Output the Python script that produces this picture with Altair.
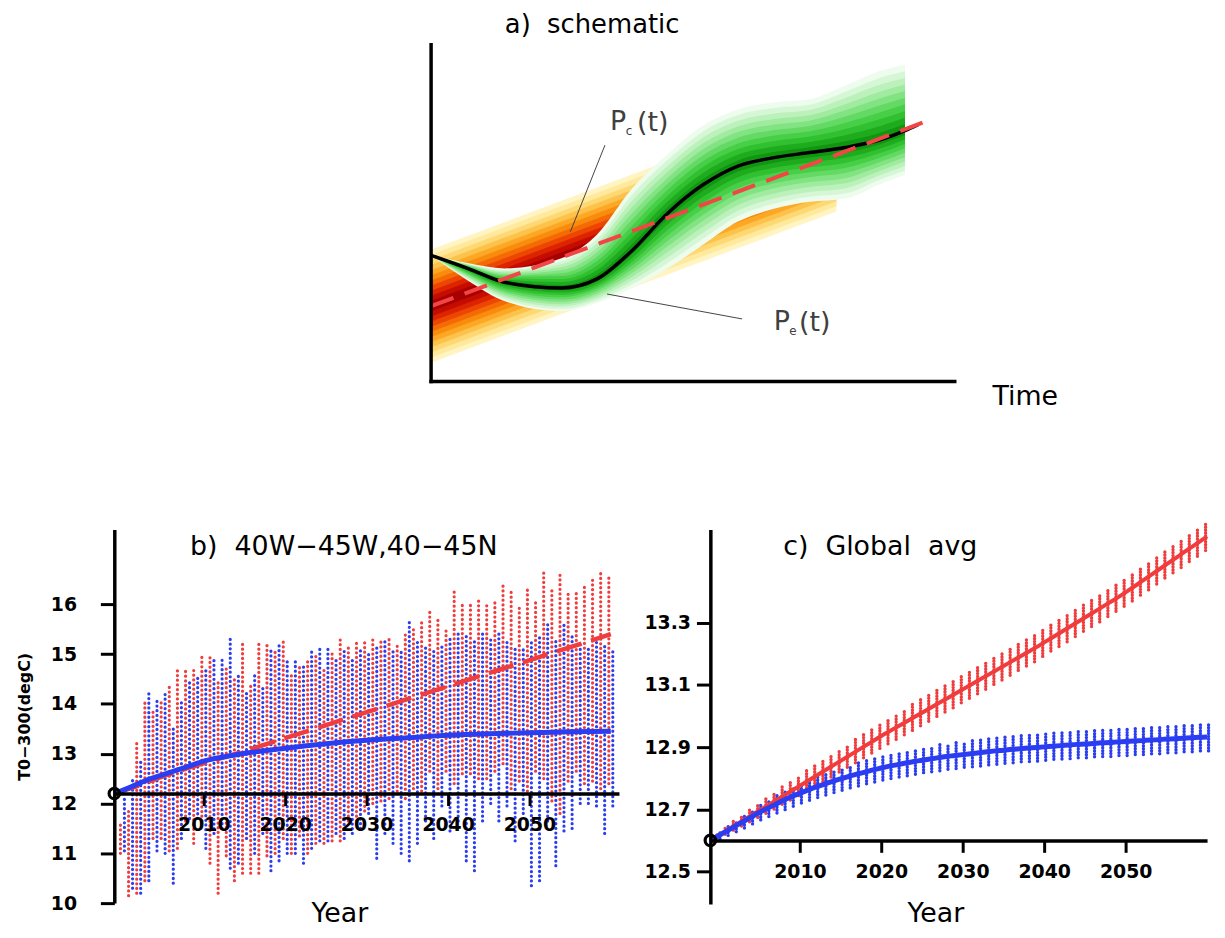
import altair as alt
import pandas as pd

FONT = "DejaVu Sans"
RED = "#f03c3c"
BLUE = "#2b3df0"
NB = "\u00a0"

# ---------------- panel a: schematic ----------------
a_band_t = [0.0, 77.4]
a_band_center = [22.4, 67.3]
a_band_half = 16.8
a_band_colors = ["#fff4c2", "#ffe99c", "#fed874", "#fdc24a", "#fca826", "#f98c0c",
                 "#f46a04", "#ec4602", "#dc2400", "#c40c00", "#a80000"]  # edge -> centre

a_green_t = [0.0, 7.2, 14.0, 24.9, 31.7, 38.3, 45.2, 52.0, 58.6, 65.5, 72.3, 79.1, 85.8, 90.5]
a_green_mid = [37.5, 33.5, 29.5, 27.8, 30.5, 38.8, 50.0, 58.5, 64.0, 66.5, 68.0, 69.5, 71.8, 74.5]
a_green_top = [37.5, 35.1, 33.6, 36.6, 43.7, 57.2, 67.6, 76.1, 80.8, 82.9, 83.8, 87.9, 92.3, 94.1]
a_green_bot = [37.5, 29.8, 23.9, 20.9, 23.3, 27.7, 33.6, 40.7, 47.5, 51.3, 53.4, 54.3, 58.7, 61.4]
a_green_colors = ["#edfced", "#d6f7d6", "#bcf1bc", "#a0eba0", "#82e382",
                  "#64da64", "#48cf48", "#30c030", "#1eac1e", "#109610"]  # edge -> centre

a_black_t = a_green_t + [93.0]
a_black_v = a_green_mid + [76.3]
a_dash_t = [0.0, 95.1]
a_dash_v = [22.4, 77.6]

a_lead_x = [33.2, 33.6]
a_lead_y = [70.2, 26.0]
a_lead_x2 = [26.6, 59.4]
a_lead_y2 = [44.5, 18.6]

a_axis_x = [0, 0]
a_axis_y = [0, 0]
a_axis_x2 = [0, 100]
a_axis_y2 = [100, 0]

# ---------------- panel b: 40W-45W,40-45N ----------------
b_years = list(range(2000, 2061))
b_red_hi = [11.65, 11.9, 13.25, 14.1, 13.9, 14.1, 14.35, 14.7, 14.7, 14.7,
            14.95, 14.95, 14.5, 14.7, 14.5, 15.25, 14.4, 15.25, 15.2, 15.05,
            15.25, 14.6, 14.75, 14.85, 14.95, 14.75, 15.05, 15.3, 15.2, 15.3,
            15.25, 15.35, 15.3, 15.35, 15.2, 15.45, 15.55, 15.65, 15.85, 15.7,
            15.5, 16.3, 16.0, 16.05, 16.1, 16.05, 16.1, 16.4, 16.25, 16.0,
            16.3, 16.1, 16.65, 16.3, 16.6, 16.2, 16.3, 16.4, 16.5, 16.65, 16.6]
b_red_lo = [11.0, 10.15, 10.2, 10.45, 11.3, 11.3, 11.05, 11.1, 11.65, 11.2,
            11.65, 10.8, 10.2, 10.95, 10.45, 10.6, 10.6, 10.6, 10.95, 11.0,
            11.3, 11.0, 11.35, 11.0, 11.2, 11.2, 11.25, 11.25, 11.65, 11.65,
            11.85, 12.0, 12.05, 12.1, 12.25, 12.1, 12.3, 12.25, 12.65, 12.3,
            12.65, 12.4, 12.6, 12.6, 12.5, 12.5, 12.65, 12.8, 12.3, 12.45,
            12.25, 12.65, 12.5, 12.05, 11.8, 12.45, 12.65, 12.4, 12.45, 12.3, 12.4]
b_blue_hi = [12.1, 12.5, 12.9, 14.25, 14.05, 14.2, 13.5, 14.1, 14.5, 14.6,
             14.7, 14.95, 14.95, 15.35, 14.6, 14.25, 14.6, 14.4, 15.1, 15.25,
             14.9, 14.85, 14.75, 15.05, 15.1, 15.15, 14.9, 15.05, 14.95, 15.1,
             15.05, 15.15, 15.3, 15.05, 15.05, 15.7, 15.3, 15.15, 15.1, 15.2,
             15.3, 15.45, 15.4, 15.3, 15.4, 15.3, 15.45, 15.25, 15.15, 15.1,
             15.3, 15.4, 15.6, 15.3, 15.6, 15.4, 15.2, 15.1, 15.3, 15.2, 15.05]
b_blue_lo = [11.05, 10.3, 10.2, 10.45, 11.05, 11.0, 10.4, 11.3, 11.7, 11.7,
             11.1, 11.4, 11.5, 10.7, 10.8, 11.3, 11.0, 11.4, 10.65, 10.85,
             11.0, 11.0, 10.8, 11.1, 11.25, 11.25, 11.4, 11.3, 11.4, 11.5,
             11.8, 10.9, 11.4, 11.2, 11.0, 10.85, 11.2, 11.65, 11.3, 11.95,
             11.45, 11.65, 10.85, 10.65, 11.65, 12.0, 11.65, 11.95, 11.25, 11.8,
             10.35, 10.45, 11.65, 10.75, 11.45, 11.5, 12.0, 12.0, 11.95, 11.4, 11.95]
b_blue_line_year = [1999, 2001, 2003, 2005, 2008, 2010, 2014, 2020, 2025, 2030, 2035, 2040, 2045, 2050, 2055, 2060]
b_blue_line_val = [12.2, 12.33, 12.47, 12.58, 12.74, 12.85, 12.98, 13.11, 13.2, 13.27, 13.32, 13.37, 13.4, 13.42, 13.44, 13.45]
b_red_line_year = [1999, 2002, 2005, 2008, 2011, 2014, 2060]
b_red_line_val = [12.2, 12.36, 12.55, 12.71, 12.86, 13.0, 15.4]
b_origin = [1999, 12.2]
b_yticks = [10, 11, 12, 13, 14, 15, 16]
x_ticks = [2010, 2020, 2030, 2040, 2050]

# ---------------- panel c: Global avg ----------------
c_line_years = list(range(1999, 2061))
c_red_center = [12.600, 12.616, 12.632, 12.648, 12.664, 12.680, 12.696, 12.712, 12.728, 12.744,
                12.760, 12.776, 12.792, 12.808, 12.824, 12.840, 12.856, 12.872, 12.888, 12.904,
                12.920, 12.936, 12.951, 12.966, 12.981, 12.996, 13.011, 13.026, 13.041, 13.056,
                13.071, 13.086, 13.101, 13.116, 13.131, 13.146, 13.161, 13.176, 13.191, 13.206,
                13.221, 13.237, 13.253, 13.269, 13.285, 13.301, 13.317, 13.333, 13.349, 13.365,
                13.381, 13.398, 13.416, 13.434, 13.452, 13.470, 13.488, 13.506, 13.524, 13.542,
                13.560, 13.578]
c_blue_center = [12.600, 12.615, 12.630, 12.645, 12.660, 12.675, 12.690, 12.703, 12.716, 12.729,
                 12.741, 12.752, 12.762, 12.772, 12.781, 12.790, 12.798, 12.806, 12.813, 12.820,
                 12.827, 12.833, 12.839, 12.844, 12.849, 12.854, 12.858, 12.862, 12.866, 12.870,
                 12.873, 12.876, 12.879, 12.882, 12.885, 12.888, 12.890, 12.893, 12.895, 12.897,
                 12.899, 12.901, 12.903, 12.905, 12.907, 12.909, 12.910, 12.912, 12.914, 12.915,
                 12.917, 12.918, 12.920, 12.921, 12.923, 12.924, 12.926, 12.927, 12.929, 12.930,
                 12.932, 12.933]
c_red_half = [0.008, 0.012, 0.015, 0.018, 0.020, 0.022, 0.025, 0.027, 0.028, 0.030,
              0.032, 0.033, 0.034, 0.035, 0.036, 0.036, 0.037, 0.038, 0.038, 0.039,
              0.040, 0.040, 0.041, 0.041, 0.042, 0.042, 0.043, 0.042, 0.043, 0.044,
              0.043, 0.044, 0.044, 0.045, 0.044, 0.045, 0.045, 0.044, 0.045, 0.046,
              0.045, 0.044, 0.045, 0.046, 0.045, 0.044, 0.045, 0.046, 0.045, 0.044,
              0.045, 0.046, 0.045, 0.046, 0.045, 0.044, 0.045, 0.046, 0.045, 0.046, 0.045]
c_blue_half = [0.010, 0.014, 0.017, 0.020, 0.022, 0.024, 0.026, 0.028, 0.030, 0.031,
               0.032, 0.033, 0.034, 0.035, 0.036, 0.037, 0.037, 0.038, 0.038, 0.039,
               0.039, 0.040, 0.040, 0.041, 0.041, 0.040, 0.041, 0.042, 0.041, 0.042,
               0.041, 0.042, 0.043, 0.042, 0.043, 0.042, 0.043, 0.042, 0.043, 0.044,
               0.043, 0.042, 0.043, 0.044, 0.043, 0.044, 0.043, 0.044, 0.045, 0.044,
               0.045, 0.044, 0.045, 0.044, 0.045, 0.044, 0.045, 0.044, 0.045, 0.044, 0.045]
c_origin = [1999, 12.6]
c_yticks = [12.5, 12.7, 12.9, 13.1, 13.3]

# ================= layout =================
A_W, A_H = 846, 339
B_W, B_H = 508, 376
C_W, C_H = 500, 377
B_XDOM = [1999, 2061]
B_YDOM = [10, 17.5]
C_XDOM = [1999, 2060]
C_YDOM = [12.395, 13.6]


def text_layer(txt, x, y, size, weight="normal", angle=0, color="black"):
    return alt.Chart(pd.DataFrame({"t": [txt]})).mark_text(
        font=FONT, fontSize=size, fontWeight=weight, align="center", baseline="middle",
        color=color, angle=angle
    ).encode(text="t:N", x=alt.value(x), y=alt.value(y))


# ---------- panel a ----------
axs = alt.Scale(domain=[-60.5, 100], nice=False, zero=False)
ays = alt.Scale(domain=[0, 100], nice=False, zero=False)
ax_layers = []
nb = len(a_band_colors)
for k in range(nb, 0, -1):
    half = a_band_half * k / nb
    df = pd.DataFrame({"t": a_band_t,
                       "lo": [c - half for c in a_band_center],
                       "hi": [c + half for c in a_band_center]})
    ax_layers.append(alt.Chart(df).mark_area(color=a_band_colors[nb - k], opacity=1).encode(
        x=alt.X("t:Q", scale=axs, axis=None), y=alt.Y("lo:Q", scale=ays, axis=None), y2="hi:Q"))
ng = len(a_green_colors)
for k in range(ng, 0, -1):
    f = k / ng
    df = pd.DataFrame({"t": a_green_t,
                       "lo": [m + (b - m) * f for m, b in zip(a_green_mid, a_green_bot)],
                       "hi": [m + (t - m) * f for m, t in zip(a_green_mid, a_green_top)]})
    ax_layers.append(alt.Chart(df).mark_area(color=a_green_colors[ng - k], interpolate="monotone", opacity=1).encode(
        x=alt.X("t:Q", scale=axs, axis=None), y=alt.Y("lo:Q", scale=ays, axis=None), y2="hi:Q"))
ax_layers.append(alt.Chart(pd.DataFrame({"t": a_black_t, "v": a_black_v})).mark_line(
    color="black", strokeWidth=3.5, interpolate="monotone").encode(
    x=alt.X("t:Q", scale=axs, axis=None), y=alt.Y("v:Q", scale=ays, axis=None)))
ax_layers.append(alt.Chart(pd.DataFrame({"t": a_dash_t, "v": a_dash_v})).mark_line(
    color="#f24646", strokeWidth=4, strokeDash=[24, 12]).encode(
    x=alt.X("t:Q", scale=axs, axis=None), y=alt.Y("v:Q", scale=ays, axis=None)))
ax_layers.append(alt.Chart(pd.DataFrame({"x": a_lead_x, "y": a_lead_y, "x2": a_lead_x2, "y2": a_lead_y2})).mark_rule(
    color="#444444", strokeWidth=1).encode(
    x=alt.X("x:Q", scale=axs, axis=None), y=alt.Y("y:Q", scale=ays, axis=None), x2="x2:Q", y2="y2:Q"))
ax_layers.append(alt.Chart(pd.DataFrame({"x": a_axis_x, "y": a_axis_y, "x2": a_axis_x2, "y2": a_axis_y2})).mark_rule(
    color="black", strokeWidth=3.5, strokeCap="square").encode(
    x=alt.X("x:Q", scale=axs, axis=None), y=alt.Y("y:Q", scale=ays, axis=None), x2="x2:Q", y2="y2:Q"))
ax_layers += [
    text_layer("a)" + NB + NB + "schematic", 481, -19.5, 26),
    text_layer("Time", 917, 355, 27),
    text_layer("P", 507, 78, 27, color="#404040"),
    text_layer("c", 518, 87, 12, color="#404040"),
    text_layer("(t)", 542, 79, 27, color="#404040"),
    text_layer("P", 672, 279, 27, color="#404040"),
    text_layer("e", 683, 288, 12, color="#404040"),
    text_layer("(t)", 705, 280, 27, color="#404040"),
]
panel_a = alt.layer(*ax_layers).properties(width=A_W, height=A_H)


def axis_pair(xdom, ydom, height, y0, yticks, yfmt, ylabpad, ytitle):
    off = -height * (y0 - ydom[0]) / (ydom[1] - ydom[0])
    xa = alt.Axis(values=x_ticks, format="d", orient="bottom", offset=off, tickSize=12, tickWidth=3,
                  tickColor="black", domainColor="black", domainWidth=3.5, labelFont=FONT,
                  labelFontSize=19, labelFontWeight="bold", labelColor="black", labelPadding=10,
                  labelOverlap=False, title=None, grid=False, zindex=1)
    ya_kwargs = dict(values=yticks, format=yfmt, tickSize=14, tickWidth=3, tickColor="black",
                     domainColor="black", domainWidth=3.5, labelFont=FONT, labelFontSize=19,
                     labelFontWeight="bold", labelColor="black", labelPadding=ylabpad,
                     labelOverlap=False, grid=False, zindex=1)
    if ytitle:
        ya = alt.Axis(title=ytitle, titleFont=FONT, titleFontSize=16, titleFontWeight="bold",
                      titleColor="black", titlePadding=18, **ya_kwargs)
    else:
        ya = alt.Axis(title=None, **ya_kwargs)
    xs = alt.Scale(domain=xdom, nice=False, zero=False)
    ys = alt.Scale(domain=ydom, nice=False, zero=False)
    return xs, ys, xa, ya


# ---------- panel b ----------
bxs, bys, bxa, bya = axis_pair(B_XDOM, B_YDOM, B_H, 12.2, b_yticks, "d", 24, "T0\u2212300(degC)")


def bX(f):
    return alt.X(f, type="quantitative", scale=bxs, axis=bxa)


def bY(f):
    return alt.Y(f, type="quantitative", scale=bys, axis=bya)


b_layers = [
    alt.Chart(pd.DataFrame({"year": b_years, "lo": b_red_lo, "hi": b_red_hi})).mark_rule(
        color=RED, strokeWidth=3.2, strokeCap="round", strokeDash=[0.1, 4.6], xOffset=-2).encode(
        x=bX("year"), y=bY("lo"), y2="hi:Q"),
    alt.Chart(pd.DataFrame({"year": b_years, "lo": b_blue_lo, "hi": b_blue_hi})).mark_rule(
        color=BLUE, strokeWidth=3.2, strokeCap="round", strokeDash=[0.1, 4.6], xOffset=2).encode(
        x=bX("year"), y=bY("lo"), y2="hi:Q"),
    alt.Chart(pd.DataFrame({"year": b_red_line_year, "val": b_red_line_val})).mark_line(
        color=RED, strokeWidth=4.5, strokeDash=[26, 10]).encode(x=bX("year"), y=bY("val")),
    alt.Chart(pd.DataFrame({"year": b_blue_line_year, "val": b_blue_line_val})).mark_line(
        color=BLUE, strokeWidth=5, interpolate="monotone").encode(x=bX("year"), y=bY("val")),
    alt.Chart(pd.DataFrame({"year": [b_origin[0]], "val": [b_origin[1]]})).mark_point(
        shape="circle", filled=False, size=110, strokeWidth=3.2, color="black", opacity=1).encode(
        x=bX("year"), y=bY("val")),
    text_layer("b)" + NB + NB + "40W\u221245W,40\u221245N", 231, 18, 27),
    text_layer("Year", 227, 387, 27),
]
panel_b = alt.layer(*b_layers).properties(width=B_W, height=B_H)

# ---------- panel c ----------
cxs, cys, cxa, cya = axis_pair(C_XDOM, C_YDOM, C_H, 12.6, c_yticks, ".1f", 6, None)


def cX(f):
    return alt.X(f, type="quantitative", scale=cxs, axis=cxa)


def cY(f):
    return alt.Y(f, type="quantitative", scale=cys, axis=cya)


c_bar_years = c_line_years[1:]
c_red_df = pd.DataFrame({"year": c_bar_years,
                         "lo": [c - h for c, h in zip(c_red_center[1:], c_red_half)],
                         "hi": [c + h for c, h in zip(c_red_center[1:], c_red_half)]})
c_blue_df = pd.DataFrame({"year": c_bar_years,
                          "lo": [c - h for c, h in zip(c_blue_center[1:], c_blue_half)],
                          "hi": [c + h for c, h in zip(c_blue_center[1:], c_blue_half)]})
c_layers = [
    alt.Chart(c_red_df).mark_rule(color=RED, strokeWidth=3.4, strokeCap="round",
                                  strokeDash=[0.1, 2.8], xOffset=-1.5).encode(
        x=cX("year"), y=cY("lo"), y2="hi:Q"),
    alt.Chart(c_blue_df).mark_rule(color=BLUE, strokeWidth=3.4, strokeCap="round",
                                   strokeDash=[0.1, 2.8], xOffset=1.5).encode(
        x=cX("year"), y=cY("lo"), y2="hi:Q"),
    alt.Chart(pd.DataFrame({"year": c_line_years, "val": c_red_center})).mark_line(
        color=RED, strokeWidth=4, interpolate="monotone").encode(x=cX("year"), y=cY("val")),
    alt.Chart(pd.DataFrame({"year": c_line_years, "val": c_blue_center})).mark_line(
        color=BLUE, strokeWidth=5, interpolate="monotone").encode(x=cX("year"), y=cY("val")),
    alt.Chart(pd.DataFrame({"year": [c_origin[0]], "val": [c_origin[1]]})).mark_point(
        shape="circle", filled=False, size=110, strokeWidth=3.2, color="black", opacity=1).encode(
        x=cX("year"), y=cY("val")),
    text_layer("c)" + NB + NB + "Global" + NB + NB + "avg", 171, 18, 27),
    text_layer("Year", 227, 387, 27),
]
panel_c = alt.layer(*c_layers).properties(width=C_W, height=C_H)

row = alt.hconcat(panel_b, panel_c, spacing=92, bounds="flush")
chart = alt.vconcat(panel_a, row, spacing=149, bounds="flush").properties(
    padding={"left": 8, "top": 1, "right": 0, "bottom": 0},
    background="white",
).configure_view(strokeWidth=0, stroke="transparent")

chart.save("out.html", embed_options={"renderer": "svg", "actions": False})
